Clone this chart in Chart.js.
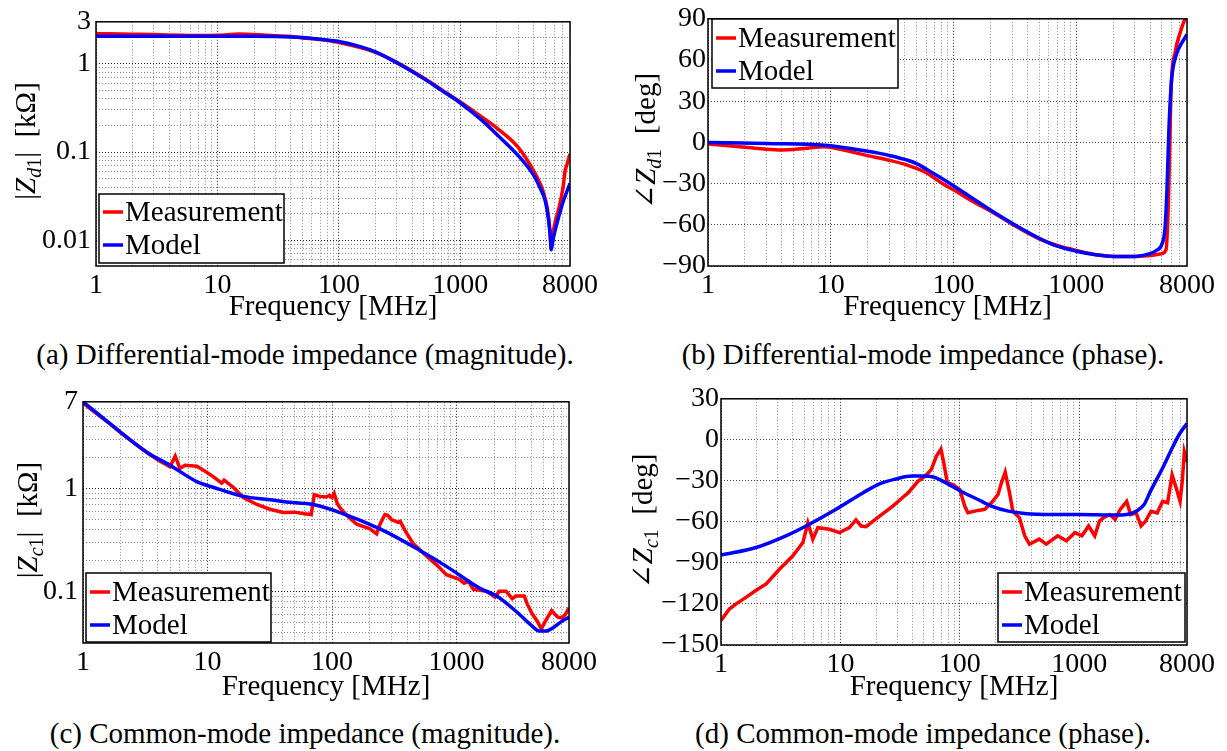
<!DOCTYPE html>
<html>
<head>
<meta charset="utf-8">
<script src="https://cdn.jsdelivr.net/npm/chart.js@4.4.1/dist/chart.umd.min.js"></script>
<style>
  body { margin: 0; background: #fff; width: 1227px; height: 751px; position: relative; overflow: hidden;
         font-family: "Liberation Serif", "Tinos", "DejaVu Serif", serif; }
  .panel { position: absolute; }
  .panel canvas { display: block; }
  .caption { position: absolute; width: 600px; text-align: center; font-size: 29px; line-height: 29px;
             color: #000; white-space: nowrap; }
</style>
</head>
<body>
<div class="panel" style="left:0;top:0"><canvas id="chartA" width="610" height="330"></canvas></div>
<div class="panel" style="left:610px;top:0"><canvas id="chartB" width="617" height="330"></canvas></div>
<div class="panel" style="left:0;top:380px"><canvas id="chartC" width="610" height="330"></canvas></div>
<div class="panel" style="left:610px;top:380px"><canvas id="chartD" width="617" height="330"></canvas></div>

<div class="caption" style="left:5px;top:340px">(a) Differential-mode impedance (magnitude).</div>
<div class="caption" style="left:623px;top:340px">(b) Differential-mode impedance (phase).</div>
<div class="caption" style="left:5px;top:719px">(c) Common-mode impedance (magnitude).</div>
<div class="caption" style="left:623px;top:719px">(d) Common-mode impedance (phase).</div>

<script>
// ---- data (frequency in MHz) ----
// (a) differential-mode |Z| in kOhm
const aMeasF = [1, 2, 3, 5, 7, 10, 15, 20, 30, 40, 50, 70, 100, 150, 200, 300, 500, 700, 1000, 1500,
                2000, 3000, 4000, 4500, 4800, 5200, 5500, 5600, 5750, 6000, 6400, 7000, 7300, 7500, 8000];
const aMeasV = [2.2, 2.17, 2.15, 2.11, 2.1, 2.11, 2.18, 2.15, 2.08, 2.04, 1.97, 1.89, 1.75, 1.53, 1.35, 1.04, 0.69, 0.51, 0.37, 0.25,
                0.187, 0.113, 0.062, 0.045, 0.036, 0.023, 0.012, 0.0082, 0.011, 0.0155, 0.0215, 0.039, 0.062, 0.07, 0.095];
const aModF = [1, 3, 10, 20, 30, 50, 70, 100, 150, 200, 300, 500, 700, 1000, 1500, 2000, 3000, 4000, 4500, 5000,
               5300, 5500, 5600, 5750, 6000, 6500, 7000, 7500, 8000];
const aModV = [2.06, 2.06, 2.06, 2.06, 2.05, 1.99, 1.9, 1.79, 1.57, 1.37, 1.03, 0.68, 0.5, 0.36, 0.23, 0.158, 0.091, 0.055, 0.04, 0.028,
               0.018, 0.011, 0.0078, 0.0095, 0.0125, 0.019, 0.027, 0.035, 0.044];

// (b) differential-mode phase in deg
const bMeasF = [1, 2, 3, 4, 6, 9, 12, 15, 20, 30, 43, 60, 70, 85, 100, 150, 200, 300, 500, 700,
                1000, 1500, 2000, 3000, 4000, 5000, 5400, 5650, 5800, 5950, 6400, 7160, 7700, 8000];
const bMeasV = [-1.2, -3.5, -5, -5.5, -4.5, -3.2, -5, -7, -9.6, -13, -16.8, -22, -26, -31, -34.5, -43.9, -49.9, -59.5, -70.3, -75.1,
                -78.7, -82, -83, -83, -82.3, -81, -78, -42.7, 0.6, 41.4, 65.5, 82, 90, 93];
const bModF = [1, 3, 9, 20, 30, 43, 50, 70, 100, 150, 200, 300, 500, 700, 1000, 1500, 2000, 3000, 4000, 4500,
               5000, 5300, 5500, 5700, 6000, 6500, 7000, 8000];
const bModV = [0, -0.8, -2.1, -6.5, -9.5, -13.2, -15.5, -23, -31.5, -42, -49.2, -58.8, -69.8, -75.6, -79.2, -82, -83, -83, -81, -78.7,
               -74, -62, -33, 10, 46, 63, 70, 78.6];

// (c) common-mode |Z| in kOhm
const cMeasF = [1, 1.3, 1.6, 2, 2.5, 3.25, 4, 5, 5.5, 6, 6.6, 8.2, 9.3, 11.1, 13, 13.6, 16.1, 19.4, 24.9, 31.7,
                40.5, 50, 60, 68, 72, 80, 90, 95, 100, 104, 110, 116, 131, 158, 202, 228, 243, 266, 280, 300,
                340, 353, 386, 450, 543, 694, 830, 1060, 1150, 1250, 1360, 1500, 1740, 2040, 2200, 2500, 2800, 3000, 3500, 3700,
                4000, 4500, 4800, 5200, 5800, 6500, 7000, 7500, 8000];
const cMeasV = [6.8, 5.3, 4.4, 3.5, 2.85, 2.26, 1.9, 1.63, 2.07, 1.57, 1.69, 1.65, 1.51, 1.31, 1.13, 1.21, 1.03, 0.82, 0.7, 0.63,
                0.585, 0.59, 0.57, 0.56, 0.87, 0.84, 0.83, 0.86, 0.82, 0.9, 0.72, 0.65, 0.55, 0.45, 0.405, 0.363, 0.45, 0.56, 0.55, 0.5,
                0.47, 0.48, 0.39, 0.29, 0.235, 0.18, 0.145, 0.13, 0.12, 0.125, 0.105, 0.103, 0.1, 0.088, 0.1, 0.1, 0.085, 0.09, 0.09, 0.075,
                0.062, 0.05, 0.043, 0.052, 0.065, 0.056, 0.055, 0.06, 0.069];
const cModF = [1, 2, 3.25, 5, 8.2, 11.1, 19.4, 31.7, 41.5, 70.8, 116, 243, 508, 830, 1540, 2100, 3000, 4000, 4600, 5200,
               6000, 7000, 8000];
const cModV = [7.0, 3.55, 2.26, 1.69, 1.17, 1.03, 0.84, 0.78, 0.745, 0.7, 0.585, 0.405, 0.25, 0.175, 0.107, 0.09, 0.064, 0.0465, 0.041, 0.041,
               0.0445, 0.051, 0.056];

// (d) common-mode phase in deg
const dMeasF = [1, 1.18, 1.34, 1.63, 1.97, 2.39, 3.1, 4.0, 4.85, 5.34, 5.88, 6.47, 8.1, 9.8, 11.9, 13.5, 14.9, 16.4, 21.3, 27.5,
                33.4, 36.9, 44.6, 50.9, 57.7, 63.6, 69.5, 73.5, 78.6, 87.5, 100, 110, 117, 142, 162, 184, 209, 223, 240, 261,
                278, 316, 350, 383, 463, 530, 661, 781, 922, 1053, 1200, 1350, 1480, 1600, 1800, 2000, 2200, 2500, 2700, 3000,
                3300, 3600, 4000, 4500, 5000, 5500, 6000, 6500, 7000, 7300, 7600, 8000];
const dMeasV = [-132, -123.5, -119.9, -115, -110, -105.3, -94.4, -84.8, -75.1, -60.6, -72.6, -64.2, -65.4, -67.8, -64.2, -58.6, -63, -63.5, -55.7, -48.4,
                -42, -38.8, -30.3, -26.7, -21.8, -12.1, -6.8, -17, -31.5, -32.7, -36.3, -48.4, -53.3, -51.6, -50.8, -46, -40, -31.5, -23.7, -38.8,
                -52.1, -57, -70.2, -76.3, -72.6, -76.3, -70.2, -73.8, -67.8, -70.2, -63, -70.2, -59.3, -57, -54.6, -58.2, -51, -45, -54.6, -53.4,
                -63, -59.4, -52.2, -53.4, -45, -46, -25.7, -35.3, -45, -30.5, -8.9, -16.1];
const dModF = [1, 1.97, 3.5, 5.5, 9.2, 15.4, 21.5, 28.6, 40, 47.6, 61.7, 78.6, 102, 142, 184, 255, 350, 600, 1000, 2000,
               2500, 3000, 3500, 3960, 5000, 6000, 6980, 8000];
const dModV = [-84.3, -78.7, -70.2, -61.7, -50.8, -38.8, -32, -28.8, -26.5, -26.5, -27.5, -32, -37.6, -43.6, -48.4, -52.1, -53.8, -54.5, -54.5, -55,
               -54.6, -52.2, -47.3, -37.5, -20.6, -6.1, 4.8, 12];

// tick labels
const xTickLabels = [1, 10, 100, 1000, 8000];
const aYLabels = [0.01, 0.1, 1, 3];
const cYLabels = [0.1, 1, 7];
const bYLabels = [-90, -60, -30, 0, 30, 60, 90];
const dYLabels = [-150, -120, -90, -60, -30, 0, 30];

const FONT = '"Liberation Serif", "Tinos", "DejaVu Serif", serif';

function toXY(fs, vs) {
    return fs.map((f, i) => ({ x: f, y: vs[i] }));
}

// grid positions 1..9 x 10^n between min and max
function logGrid(min, max) {
    const out = [];
    for (let e = -3; e <= 4; e++) {
        for (let m = 1; m <= 9; m++) {
            const v = +(m * Math.pow(10, e)).toPrecision(6);
            if (v >= min * 0.9999 && v <= max * 1.0001) out.push(v);
        }
    }
    return out;
}

function isDecade(v) {
    const l = Math.log10(v);
    return Math.abs(l - Math.round(l)) < 1e-6;
}

function hasLabel(list, v) {
    return list.some(l => Math.abs(l - v) <= Math.abs(l) * 1e-6);
}

function fmt(v) {
    return v < 0 ? '\u2212' + Math.abs(v) : String(v);
}

// frame, in-plot legend and rich y-axis title
const figureDeco = {
    id: 'figureDeco',
    afterDatasetsDraw(chart, args, opts) {
        const ctx = chart.ctx;
        const a = chart.chartArea;
        ctx.save();
        ctx.strokeStyle = '#000';
        ctx.lineWidth = 1.5;
        ctx.strokeRect(a.left, a.top, a.right - a.left, a.bottom - a.top);

        // legend box
        const L = opts.legend;
        ctx.fillStyle = '#fff';
        ctx.fillRect(L.x, L.y, L.w, L.h);
        ctx.lineWidth = 1.5;
        ctx.strokeRect(L.x, L.y, L.w, L.h);
        chart.data.datasets.forEach((ds, i) => {
            const y = L.y + L.rows[i];
            ctx.strokeStyle = ds.borderColor;
            ctx.lineWidth = 3.5;
            ctx.beginPath();
            ctx.moveTo(L.x + 4, y);
            ctx.lineTo(L.x + 24, y);
            ctx.stroke();
            ctx.fillStyle = '#000';
            ctx.font = '29px ' + FONT;
            ctx.textAlign = 'left';
            ctx.textBaseline = 'middle';
            ctx.fillText(ds.label, L.x + 26, y + 1);
        });

        // y title: |Z_d1| [kOhm] or angle Z_d1 [deg]
        const T = opts.yTitle;
        const big = '29px ' + FONT;
        const ital = 'italic 29px ' + FONT;
        const subI = 'italic 20px ' + FONT;
        const subR = '20px ' + FONT;
        const segs = T.kind === 'mag'
            ? [['|', big, 0], ['Z', ital, 0], [T.sub[0], subI, 6], [T.sub[1], subR, 6], ['|', big, 0], ['  [k\u03A9]', big, 0]]
            : [['\u2220', big, 0], ['Z', ital, 0], [T.sub[0], subI, 6], [T.sub[1], subR, 6], ['  [deg]', big, 0]];
        let total = 0;
        segs.forEach(s => { ctx.font = s[1]; total += ctx.measureText(s[0]).width; });
        ctx.translate(T.cx, T.cy);
        ctx.rotate(-Math.PI / 2);
        ctx.fillStyle = '#000';
        ctx.textAlign = 'left';
        ctx.textBaseline = 'alphabetic';
        let x = -total / 2;
        segs.forEach(s => {
            ctx.font = s[1];
            ctx.fillText(s[0], x, 10 + s[2]);
            x += ctx.measureText(s[0]).width;
        });
        ctx.restore();
    }
};

function makeChart(id, cfg) {
    const canvas = document.getElementById(id);
    const W = canvas.width, H = canvas.height;
    const fr = cfg.frame;
    const xGrid = logGrid(1, 8000);

    let yScale;
    if (cfg.yLog) {
        const yGrid = logGrid(cfg.yMin, cfg.yMax);
        yScale = {
            type: 'logarithmic',
            min: cfg.yMin,
            max: cfg.yMax,
            afterBuildTicks: s => { s.ticks = yGrid.map(v => ({ value: v })); },
            afterFit: s => { s.width = fr.left; },
            ticks: {
                autoSkip: false,
                padding: 5,
                color: '#000',
                font: { family: FONT, size: 28 },
                callback: v => hasLabel(cfg.yLabels, v) ? String(v) : ''
            },
            grid: {
                drawTicks: false,
                lineWidth: 1,
                color: c => isDecade(c.tick.value) ? '#222' : '#8a8a8a'
            },
            border: { display: false, dash: [1, 2] }
        };
    } else {
        yScale = {
            type: 'linear',
            min: cfg.yMin,
            max: cfg.yMax,
            afterBuildTicks: s => { s.ticks = cfg.yLabels.map(v => ({ value: v })); },
            afterFit: s => { s.width = fr.left; },
            ticks: {
                autoSkip: false,
                padding: 2,
                color: '#000',
                font: { family: FONT, size: 28 },
                callback: v => fmt(v)
            },
            grid: { drawTicks: false, lineWidth: 1, color: '#444' },
            border: { display: false, dash: [1, 2] }
        };
    }

    const measStyle = cfg.smoothMeas ? { cubicInterpolationMode: 'monotone' } : { tension: 0 };

    return new Chart(canvas, {
        type: 'line',
        data: {
            datasets: [
                Object.assign({
                    label: 'Measurement',
                    data: toXY(cfg.measF, cfg.measV),
                    borderColor: '#ff0000',
                    borderWidth: 3.5,
                    pointRadius: 0,
                    order: 1
                }, measStyle),
                {
                    label: 'Model',
                    data: toXY(cfg.modF, cfg.modV),
                    borderColor: '#0000ff',
                    borderWidth: 3.5,
                    pointRadius: 0,
                    cubicInterpolationMode: 'monotone',
                    order: 0
                }
            ]
        },
        options: {
            responsive: false,
            animation: false,
            events: [],
            layout: { padding: { top: fr.top, right: W - fr.right, left: 0, bottom: 0 } },
            plugins: {
                legend: { display: false },
                tooltip: { enabled: false },
                figureDeco: { legend: cfg.legend, yTitle: cfg.yTitle }
            },
            scales: {
                x: {
                    type: 'logarithmic',
                    min: 1,
                    max: 8000,
                    afterBuildTicks: s => { s.ticks = xGrid.map(v => ({ value: v })); },
                    afterFit: s => { s.height = H - fr.bottom; },
                    ticks: {
                        autoSkip: false,
                        maxRotation: 0,
                        padding: 3,
                        color: '#000',
                        font: { family: FONT, size: 28 },
                        callback: v => xTickLabels.includes(v) ? String(v) : ''
                    },
                    grid: {
                        drawTicks: false,
                        lineWidth: 1,
                        color: c => isDecade(c.tick.value) ? '#222' : '#8a8a8a'
                    },
                    border: { display: false, dash: [1, 2] },
                    title: {
                        display: true,
                        text: 'Frequency [MHz]',
                        color: '#000',
                        font: { family: FONT, size: 29 },
                        padding: { top: 0, bottom: 5 }
                    }
                },
                y: yScale
            }
        },
        plugins: [figureDeco]
    });
}

makeChart('chartA', {
    measF: aMeasF, measV: aMeasV, modF: aModF, modV: aModV, smoothMeas: true,
    yLog: true, yMin: 0.0051, yMax: 3, yLabels: aYLabels,
    frame: { left: 96, top: 17, right: 570, bottom: 266 },
    legend: { x: 99, y: 194, w: 185, h: 69, rows: [18, 51] },
    yTitle: { kind: 'mag', sub: 'd1', cx: 25, cy: 141 }
});

makeChart('chartB', {
    measF: bMeasF, measV: bMeasV, modF: bModF, modV: bModV, smoothMeas: true,
    yLog: false, yMin: -90, yMax: 90, yLabels: bYLabels,
    frame: { left: 98, top: 17, right: 577, bottom: 266 },
    legend: { x: 102, y: 19, w: 186, h: 69, rows: [19, 52] },
    yTitle: { kind: 'phase', sub: 'd1', cx: 35, cy: 141 }
});

makeChart('chartC', {
    measF: cMeasF, measV: cMeasV, modF: cModF, modV: cModV, smoothMeas: false,
    yLog: true, yMin: 0.0314, yMax: 7, yLabels: cYLabels,
    frame: { left: 83, top: 17, right: 569, bottom: 263 },
    legend: { x: 86, y: 193, w: 185, h: 69, rows: [19, 52] },
    yTitle: { kind: 'mag', sub: 'c1', cx: 27, cy: 140 }
});

makeChart('chartD', {
    measF: dMeasF, measV: dMeasV, modF: dModF, modV: dModV, smoothMeas: false,
    yLog: false, yMin: -150, yMax: 30, yLabels: dYLabels,
    frame: { left: 111, top: 17, right: 577, bottom: 265 },
    legend: { x: 388, y: 193, w: 187, h: 69, rows: [19, 52] },
    yTitle: { kind: 'phase', sub: 'c1', cx: 32, cy: 141 }
});
</script>
</body>
</html>
